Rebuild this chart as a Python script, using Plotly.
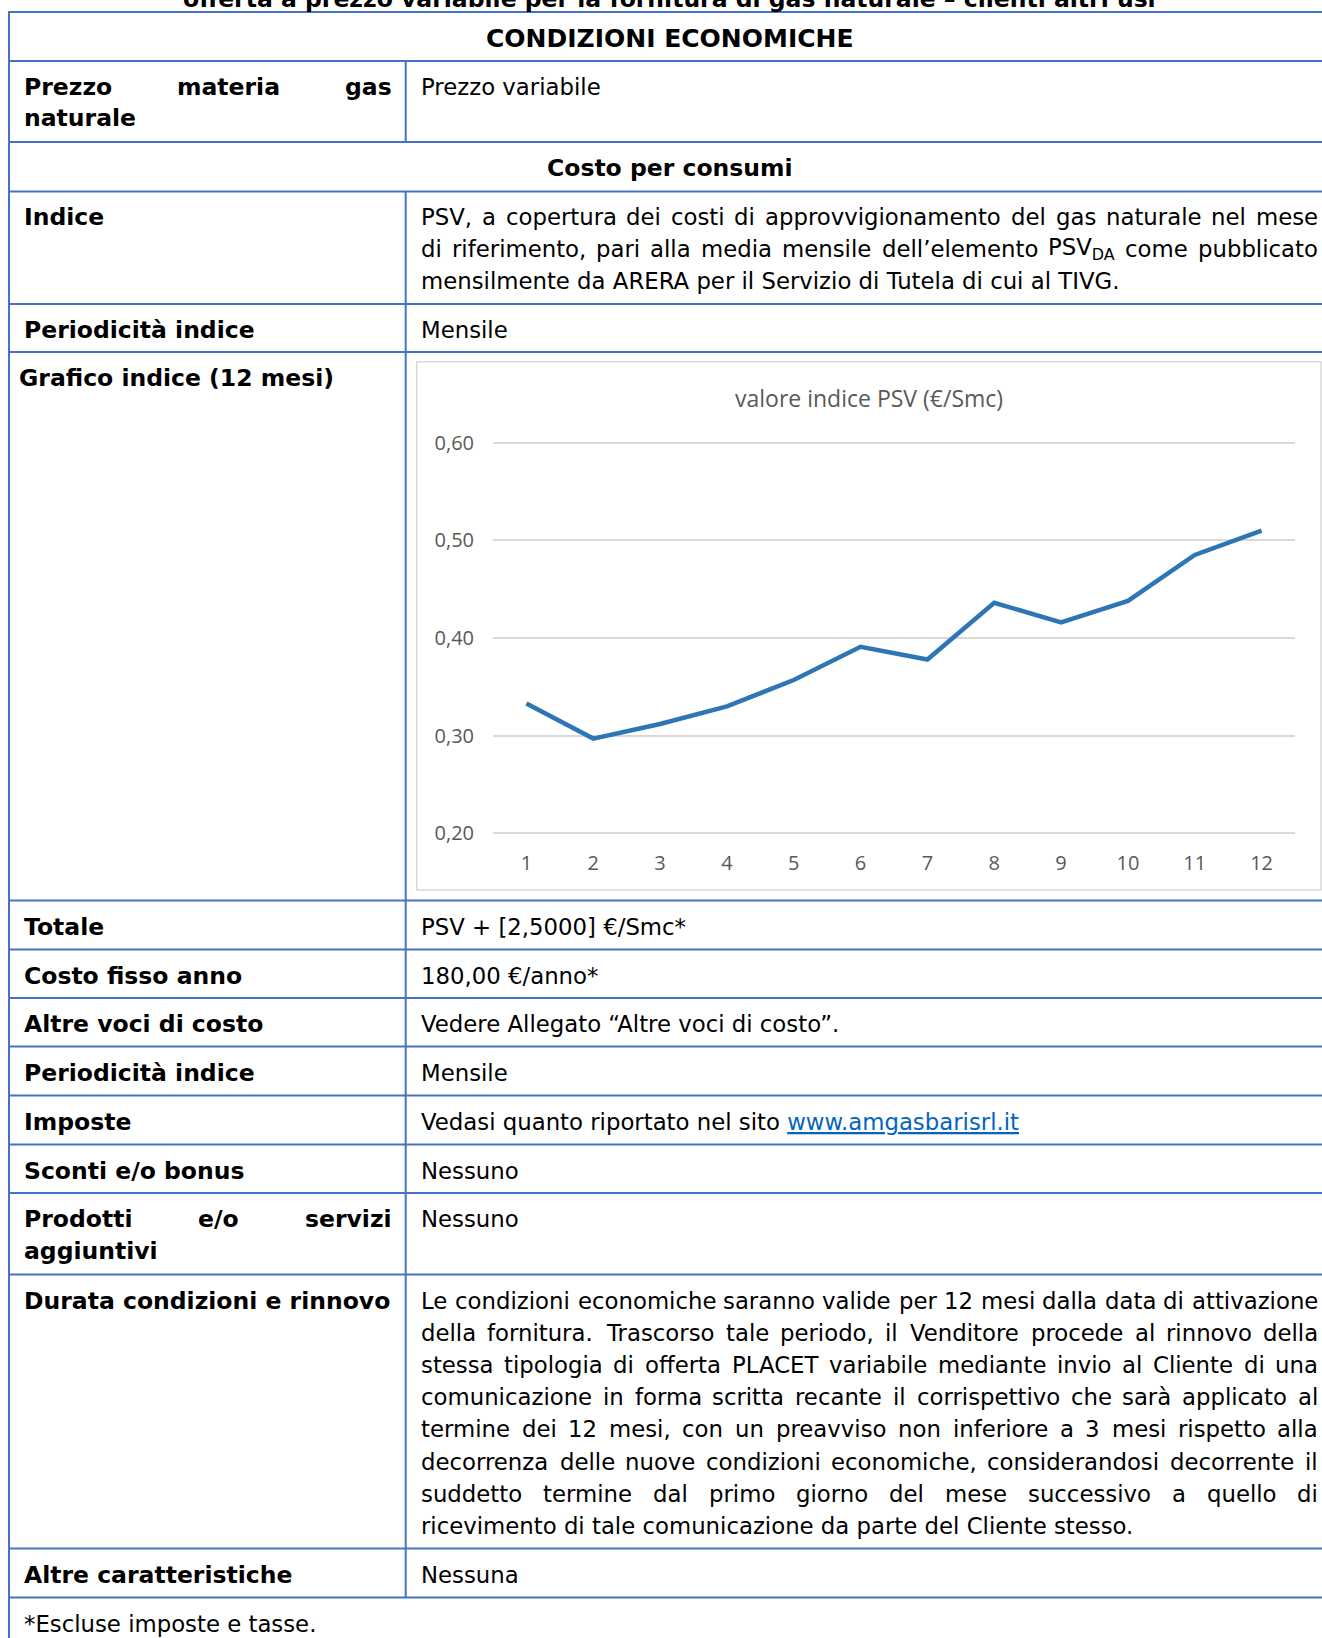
import re
import plotly.graph_objects as go

# ---------------- data ----------------
months = list(range(1, 13))
psv_values = [0.333, 0.297, 0.312, 0.330, 0.357, 0.391, 0.378, 0.436, 0.416, 0.438, 0.485, 0.510]
y_tick_values = [0.2, 0.3, 0.4, 0.5, 0.6]
chart_title = "valore indice PSV (€/Smc)"

doc_title = "offerta a prezzo variabile per la fornitura di gas naturale – clienti altri usi"
header_text = "CONDIZIONI ECONOMICHE"
subheader_text = "Costo per consumi"

indice_lines = [
    "PSV, a copertura dei costi di approvvigionamento del gas naturale nel mese",
    "di riferimento, pari alla media mensile dell’elemento PSV<sub>DA</sub> come pubblicato",
    "mensilmente da ARERA per il Servizio di Tutela di cui al TIVG.",
]
durata_lines = [
    "Le condizioni economiche saranno valide per 12 mesi dalla data di attivazione",
    "della fornitura. Trascorso tale periodo, il Venditore procede al rinnovo della",
    "stessa tipologia di offerta PLACET variabile mediante invio al Cliente di una",
    "comunicazione in forma scritta recante il corrispettivo che sarà applicato al",
    "termine dei 12 mesi, con un preavviso non inferiore a 3 mesi rispetto alla",
    "decorrenza delle nuove condizioni economiche, considerandosi decorrente il",
    "suddetto termine dal primo giorno del mese successivo a quello di",
    "ricevimento di tale comunicazione da parte del Cliente stesso.",
]
simple_rows = [
    ("Totale", "PSV + [2,5000] €/Smc*"),
    ("Costo fisso anno", "180,00 €/anno*"),
    ("Altre voci di costo", "Vedere Allegato “Altre voci di costo”."),
    ("Periodicità indice", "Mensile"),
    ("Imposte", "Vedasi quanto riportato nel sito <span style='color:#0563C1'><u>www.amgasbarisrl.it</u></span>"),
    ("Sconti e/o bonus", "Nessuno"),
]
footer_text = "*Escluse imposte e tasse."

# ---------------- geometry helpers ----------------
W, H = 1322, 1638
DOC_FONT = "DejaVu Sans"
CHART_FONT = "Open Sans"
REG = 22.8
BOLD = 23.5
LINE_COL = "#4472C4"

def X(px):
    return px / W

def Y(py):
    return 1 - py / H

WR = {' ': 651, '!': 821, '"': 942, "'": 563, '(': 799, ')': 799, '*': 1024, '+': 1716,
      ',': 651, '-': 739, '.': 651, '/': 690, ':': 690, ';': 690, '[': 799, ']': 799,
      'A': 1401, 'B': 1405, 'C': 1430, 'D': 1577, 'E': 1294, 'F': 1178, 'G': 1587, 'H': 1540,
      'I': 604, 'J': 604, 'K': 1343, 'L': 1141, 'M': 1767, 'N': 1532, 'O': 1612, 'P': 1235,
      'Q': 1612, 'R': 1423, 'S': 1300, 'T': 1251, 'U': 1499, 'V': 1401, 'W': 2025, 'X': 1403,
      'Y': 1251, 'Z': 1403, 'a': 1255, 'b': 1300, 'c': 1126, 'd': 1300, 'e': 1260, 'f': 721,
      'g': 1300, 'h': 1298, 'i': 569, 'j': 569, 'k': 1186, 'l': 569, 'm': 1995, 'n': 1298,
      'o': 1253, 'p': 1300, 'q': 1300, 'r': 842, 's': 1067, 't': 803, 'u': 1298, 'v': 1212,
      'w': 1675, 'x': 1212, 'y': 1212, 'z': 1075, 'à': 1255, 'è': 1260, 'é': 1260, 'ì': 569,
      'ò': 1253, 'ù': 1298, '€': 1303, '’': 651, '“': 1065, '”': 1065}
for d in "0123456789":
    WR[d] = 1303
WB = {' ': 713, 'a': 1382, 'b': 1466, 'c': 1214, 'd': 1466, 'e': 1389, 'f': 891, 'g': 1466,
      'h': 1458, 'i': 702, 'l': 702, 'm': 2134, 'n': 1458, 'o': 1407, 'p': 1466, 'r': 1010,
      's': 1219, 't': 979, 'u': 1458, 'v': 1335, 'z': 1192, '/': 751, 'P': 1503}


def plain_width(s, bold=False):
    tb = WB if bold else WR
    return sum(tb.get(ch, 1250) for ch in s) / 2048


def word_width(w, bold=False):
    m = re.match(r"(.*)<sub>(.*)</sub>(.*)", w)
    if m:
        return plain_width(m.group(1) + m.group(3), bold) + 0.7 * plain_width(m.group(2), bold)
    return plain_width(w, bold)


annotations = []


def text(x, y, s, size=REG, bold=False, anchor='left', color='#000000', family=DOC_FONT):
    if bold:
        s = "<b>" + s + "</b>"
    annotations.append(dict(x=X(x), y=Y(y), xref='paper', yref='paper', text=s,
                            showarrow=False, xanchor=anchor, yanchor='middle',
                            borderpad=0, borderwidth=0,
                            font=dict(family=family, size=size, color=color)))


def justify(line, x0, x1, y, size=REG, bold=False):
    words = line.split(' ')
    ws = [word_width(w, bold) * size for w in words]
    n = len(words)
    gap = (x1 - x0 - sum(ws)) / (n - 1)
    pos = x0
    for i, (w, wd) in enumerate(zip(words, ws)):
        if i == 0:
            text(x0, y, w, size=size, bold=bold, anchor='left')
        elif i == n - 1:
            text(x1, y, w, size=size, bold=bold, anchor='right')
        else:
            text(pos + wd / 2, y, w, size=size, bold=bold, anchor='center')
        pos += wd + gap


shapes = []


def hline(y, x0=9, x1=W + 5):
    shapes.append(dict(type='line', xref='paper', yref='paper', x0=X(x0), x1=X(x1),
                       y0=Y(y), y1=Y(y), line=dict(color=LINE_COL, width=2)))


def vline(x, y0, y1):
    shapes.append(dict(type='line', xref='paper', yref='paper', x0=X(x), x1=X(x),
                       y0=Y(y0), y1=Y(y1), line=dict(color=LINE_COL, width=2)))


# ---------------- table lines ----------------
row_lines = [12, 61, 142, 191.5, 304, 352, 900.5, 949.5, 998, 1046.5, 1095.5, 1144.5,
             1193, 1274.5, 1548.5, 1597.5]
for yy in row_lines:
    hline(yy)
vline(9, 11, H + 5)
vline(405.7, 61, 142)
vline(405.7, 191.5, 1597.5)

# chart frame
shapes.append(dict(type='rect', xref='paper', yref='paper', x0=X(416.7), x1=X(1321),
                   y0=Y(890), y1=Y(361.7), line=dict(color='#D9D9D9', width=1.5),
                   layer='below'))

# ---------------- texts ----------------
LX = 24
RX0, RX1 = 421, 1318
PAD = 26

text(670, -1.5, doc_title, size=BOLD, bold=True, anchor='center')
text(670, 12 + PAD, header_text, size=25, bold=True, anchor='center')

justify("Prezzo materia gas", LX, 391.5, 61 + PAD, size=BOLD, bold=True)
text(LX, 61 + PAD + 31.5, "naturale", size=BOLD, bold=True)
text(RX0, 61 + PAD, "Prezzo variabile")

text(670, 142 + PAD, subheader_text, size=BOLD, bold=True, anchor='center')

text(LX, 191.5 + PAD, "Indice", size=BOLD, bold=True)
for i, ln in enumerate(indice_lines):
    yy = 191.5 + PAD + 31.9 * i
    if i < len(indice_lines) - 1:
        justify(ln, RX0, RX1, yy)
    else:
        text(RX0, yy, ln)

text(LX, 304 + PAD, "Periodicità indice", size=BOLD, bold=True)
text(RX0, 304 + PAD, "Mensile")

text(19, 352 + PAD, "Grafico indice (12 mesi)", size=BOLD, bold=True)

simple_tops = [900.5, 949.5, 998, 1046.5, 1095.5, 1144.5]
for (lab, val), top in zip(simple_rows, simple_tops):
    text(LX, top + PAD, lab, size=BOLD, bold=True)
    text(RX0, top + PAD, val)

justify("Prodotti e/o servizi", LX, 391.5, 1193 + PAD, size=BOLD, bold=True)
text(LX, 1193 + PAD + 31.5, "aggiuntivi", size=BOLD, bold=True)
text(RX0, 1193 + PAD, "Nessuno")

text(LX, 1274.5 + PAD, "Durata condizioni e rinnovo", size=BOLD, bold=True)
for i, ln in enumerate(durata_lines):
    yy = 1274.5 + PAD + 32.2 * i
    if i < len(durata_lines) - 1:
        justify(ln, RX0, RX1, yy)
    else:
        text(RX0, yy, ln)

text(LX, 1548.5 + PAD, "Altre caratteristiche", size=BOLD, bold=True)
text(RX0, 1548.5 + PAD, "Nessuna")

text(LX, 1597.5 + PAD, footer_text)

# chart title
text(869, 397.7, chart_title, size=23, anchor='center', color='#595959', family=CHART_FONT)

# ---------------- chart ----------------
fig = go.Figure()
fig.add_trace(go.Scatter(x=months, y=psv_values, mode='lines',
                         line=dict(color='#2E75B6', width=4.5), hoverinfo='skip',
                         showlegend=False))

fig.update_layout(
    width=W, height=H, autosize=False,
    margin=dict(l=0, r=0, t=0, b=0, pad=0, autoexpand=False),
    paper_bgcolor='white', plot_bgcolor='rgba(0,0,0,0)',
    separators=',.',
    shapes=shapes, annotations=annotations,
    xaxis=dict(domain=[X(493), X(1295)], range=[0.5, 12.5], tickmode='array',
               tickvals=months, ticktext=[str(m) for m in months], showgrid=False,
               zeroline=False, showline=False, ticks='', ticklabelstandoff=11,
               tickfont=dict(family=CHART_FONT, size=20, color='#595959'), fixedrange=True),
    yaxis=dict(domain=[Y(838.2), Y(437.8)], range=[0.195, 0.605], tickmode='array',
               tickvals=y_tick_values, tickformat='.2f', showgrid=True,
               gridcolor='#D9D9D9', gridwidth=1.5, zeroline=False, showline=False,
               ticks='', ticklabelstandoff=18,
               tickfont=dict(family=CHART_FONT, size=20, color='#595959'), fixedrange=True),
)

post_js = (
    "document.body.style.margin='0';"
    "document.body.style.padding='0';"
    "document.body.style.overflow='hidden';"
    "var gd=document.getElementById('{plot_id}');"
    "gd.style.position='absolute';gd.style.left='0px';gd.style.top='0px';"
)

fig.write_html("out.html", config={'displayModeBar': False}, post_script=post_js)
